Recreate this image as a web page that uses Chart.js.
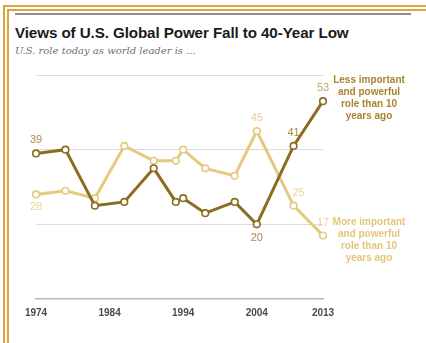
<!DOCTYPE html>
<html>
<head>
<meta charset="utf-8">
<script src="https://cdn.jsdelivr.net/npm/chart.js@4"></script>
<style>
  html, body { margin: 0; padding: 0; background: #fff; }
  body { width: 426px; height: 343px; position: relative; overflow: hidden; font-family: "Liberation Sans", Arial, sans-serif; }
  .frame-outer { position: absolute; left: 3px; top: 5px; width: 440px; height: 336px; border-top: 2px solid #dca43c; border-left: 2px solid #dca43c; border-bottom: 2px solid #dca43c; }
  .frame-inner { position: absolute; left: 7px; top: 9px; width: 440px; height: 340px; border-top: 2px solid #dca43c; border-left: 2px solid #dca43c; }
  .topbar { position: absolute; left: 15px; top: 13px; width: 396px; height: 2px; background: #8e8e8e; }
  .title { position: absolute; left: 15px; top: 24px; font-size: 15.2px; font-weight: bold; color: #1a1a1a; letter-spacing: -0.1px; white-space: nowrap; }
  .sub { position: absolute; left: 15px; top: 45px; font-family: "DejaVu Serif", "Liberation Serif", serif; font-style: italic; font-size: 10px; color: #707070; white-space: nowrap; }
  .note { position: absolute; width: 90px; text-align: center; font-weight: bold; font-size: 10px; line-height: 12px; white-space: nowrap; }
  #wrap { position: absolute; left: 0; top: 0; width: 426px; height: 343px; }
</style>
</head>
<body>
<div class="frame-outer"></div>
<div class="frame-inner"></div>
<div class="topbar"></div>
<div class="title">Views of U.S. Global Power Fall to 40-Year Low</div>
<div class="sub">U.S. role today as world leader is ...</div>
<div id="wrap"><canvas id="chart" width="426" height="343"></canvas></div>
<div class="note" style="left:324px; top:74px; color:#a8842e;">Less important<br>and powerful<br>role than 10<br>years ago</div>
<div class="note" style="left:324px; top:216px; color:#e4c678;">More important<br>and powerful<br>role than 10<br>years ago</div>
<script>
const years = [1974, 1978, 1982, 1986, 1990, 1993, 1994, 1997, 2001, 2004, 2009, 2013];
const lessImportant = [39, 40, 25, 26, 35, 26, 27, 23, 26, 20, 41, 53];
const moreImportant = [28, 29, 27, 41, 37, 37, 40, 35, 33, 45, 25, 17];
const xTicks = [1974, 1984, 1994, 2004, 2013];
const yGrid = [0, 20, 40, 60];

const darkColor = '#8c6c1e';
const lightColor = '#e5c97e';

// which points get a value label, and where it sits relative to the point
const labelSpots = [
  { ds: 0, i: 0, dx: 0, dy: -13, color: '#ab8d4a' },
  { ds: 0, i: 9, dx: 0, dy: 14, color: '#a08a5a' },
  { ds: 0, i: 10, dx: 0, dy: -13, color: '#a8883e' },
  { ds: 0, i: 11, dx: 0, dy: -13, color: '#bfa566' },
  { ds: 1, i: 0, dx: 0, dy: 13, color: '#ead394' },
  { ds: 1, i: 9, dx: 0, dy: -13, color: '#ead394' },
  { ds: 1, i: 10, dx: 5, dy: -13, color: '#ead394' },
  { ds: 1, i: 11, dx: 0, dy: -13, color: '#ead394' }
];

const valueLabels = {
  id: 'valueLabels',
  afterDatasetsDraw(chart) {
    const ctx = chart.ctx;
    ctx.save();
    ctx.font = '11px "Liberation Sans", Arial, sans-serif';
    ctx.textAlign = 'center';
    ctx.textBaseline = 'middle';
    labelSpots.forEach(s => {
      const pt = chart.getDatasetMeta(s.ds).data[s.i];
      const v = chart.data.datasets[s.ds].data[s.i].y;
      ctx.fillStyle = s.color;
      ctx.fillText(String(v), pt.x + s.dx, pt.y + s.dy);
    });
    ctx.restore();
  }
};

function series(vals) {
  return years.map((y, i) => ({ x: y, y: vals[i] }));
}

new Chart(document.getElementById('chart'), {
  type: 'line',
  data: {
    datasets: [
      {
        label: 'Less important and powerful role than 10 years ago',
        data: series(lessImportant),
        borderColor: darkColor,
        borderWidth: 3,
        pointBackgroundColor: '#fff',
        pointBorderColor: darkColor,
        pointBorderWidth: 1.6,
        pointRadius: 3.3,
        tension: 0,
        clip: false
      },
      {
        label: 'More important and powerful role than 10 years ago',
        data: series(moreImportant),
        borderColor: lightColor,
        borderWidth: 3,
        pointBackgroundColor: '#fff',
        pointBorderColor: lightColor,
        pointBorderWidth: 1.6,
        pointRadius: 3.3,
        tension: 0,
        clip: false
      }
    ]
  },
  options: {
    responsive: false,
    animation: false,
    devicePixelRatio: 1,
    layout: { padding: { left: 36, right: 103, top: 75, bottom: 24 } },
    plugins: { legend: { display: false }, tooltip: { enabled: false } },
    scales: {
      x: {
        type: 'linear',
        min: 1974,
        max: 2013,
        afterBuildTicks(scale) { scale.ticks = xTicks.map(v => ({ value: v })); },
        afterFit(scale) { scale.height = 20; },
        grid: { display: false, drawTicks: false },
        border: { display: true, color: '#b8b8b8', width: 1.5 },
        ticks: {
          padding: 8,
          color: '#4a4a4a',
          font: { family: '"Liberation Sans", Arial, sans-serif', size: 10, weight: 'bold' },
          maxRotation: 0,
          autoSkip: false,
          callback: v => String(v)
        }
      },
      y: {
        min: 0,
        max: 60,
        afterBuildTicks(scale) { scale.ticks = yGrid.map(v => ({ value: v })); },
        afterFit(scale) { scale.width = 0; },
        ticks: { display: false },
        border: { display: false },
        grid: {
          drawTicks: false,
          color: ctx => ctx.tick && ctx.tick.value === 0 ? 'rgba(0,0,0,0)' : '#dcdcdc',
          lineWidth: 1,
          borderDash: [2, 1]
        }
      }
    }
  },
  plugins: [valueLabels]
});
</script>
</body>
</html>
